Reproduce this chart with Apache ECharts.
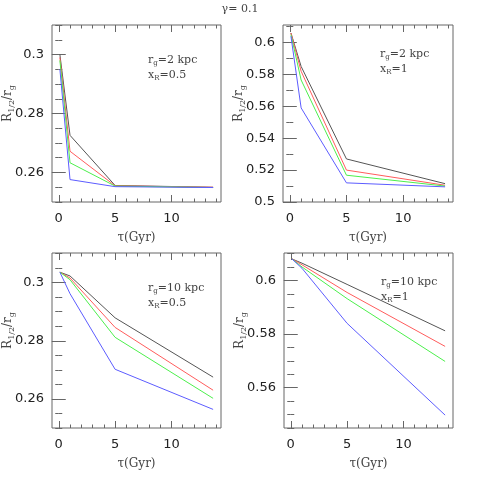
<!DOCTYPE html>
<html>
<head>
<meta charset="utf-8">
<script src="https://cdn.jsdelivr.net/npm/echarts@6/dist/echarts.min.js"></script>
<style>html,body{margin:0;padding:0;background:#fff}#c{width:479px;height:479px}</style>
</head>
<body>
<div id="c"></div>
<script>
// times (Gyr)
let tau = [0.1, 1, 5, 13.7]
// panel data: black, red, green, blue
let tl = [[0.300, 0.2726, 0.2556, 0.2550], [0.299, 0.2672, 0.2555, 0.2550], [0.298, 0.2633, 0.2554, 0.2549], [0.295, 0.2576, 0.2552, 0.2549]]
let tr = [[0.606, 0.585, 0.527, 0.5115], [0.606, 0.582, 0.520, 0.5105], [0.605, 0.5765, 0.5168, 0.510], [0.604, 0.559, 0.512, 0.5095]]
let bl = [[0.3036, 0.3023, 0.2879, 0.2675], [0.3036, 0.3016, 0.2846, 0.2630], [0.3036, 0.3010, 0.2812, 0.2602], [0.3036, 0.2962, 0.2702, 0.2564]]
let br = [[0.608, 0.6064, 0.5985, 0.5812], [0.608, 0.6058, 0.5955, 0.5754], [0.608, 0.605, 0.5932, 0.5698], [0.608, 0.6045, 0.5840, 0.5498]]
let labels = [['2', '0.5'], ['2', '1'], ['10', '0.5'], ['10', '1']]
let colors = ['#555555', '#ff5c5c', '#4cef4c', '#5c5cff']

let panels = [
  { data: tl, left: 52, top: 25, w: 169, h: 177, ymin: 0.25, ymax: 0.31, major: [0.26, 0.28, 0.30], minor: 0.005 },
  { data: tr, left: 283, top: 25, w: 170, h: 177, ymin: 0.5, ymax: 0.611, major: [0.5, 0.52, 0.54, 0.56, 0.58, 0.6], minor: 0.01 },
  { data: bl, left: 52, top: 253, w: 169, h: 175, ymin: 0.25, ymax: 0.3102, major: [0.26, 0.28, 0.30], minor: 0.005 },
  { data: br, left: 284, top: 253, w: 169, h: 175, ymin: 0.545, ymax: 0.6102, major: [0.56, 0.58, 0.6], minor: 0.005 }
]

function steps(a, b, s) {
  let out = []
  for (let v = Math.ceil(a / s - 1e-9) * s; v <= b + 1e-9; v += s) out.push(+v.toFixed(4))
  return out
}

let grid = [], xAxis = [], yAxis = [], series = [], graphic = []
let lineCol = '#666'
panels.forEach(function (p, i) {
  let xMinor = steps(0, 14, 1)
  let yMinor = steps(p.ymin, p.ymax, p.minor)
  // two grids on the same rect: g = 0 minor ticks, g = 1 major ticks + labels
  ;[0, 1].forEach(function (g) {
    let gi = grid.length
    grid.push({ left: p.left, top: p.top, width: p.w, height: p.h, show: g === 0, borderColor: lineCol, borderWidth: 1 })
    let len = g ? 7 : 3.5
    let xt = g ? [0, 5, 10] : xMinor
    let yt = g ? p.major : yMinor
    ;['bottom', 'top'].forEach(function (pos) {
      let lab = g === 1 && pos === 'bottom'
      xAxis.push({
        gridIndex: gi, type: 'value', position: pos, min: -0.6, max: 14.4,
        axisLine: { show: false }, splitLine: { show: false },
        axisTick: { inside: true, length: len, customValues: xt, lineStyle: { color: lineCol } },
        axisLabel: { show: lab, customValues: [0, 5, 10], color: '#222', fontSize: 13, fontFamily: 'DejaVu Sans', margin: 10 },
        name: lab ? 'τ(Gyr)' : '', nameLocation: 'middle', nameGap: 30,
        nameTextStyle: { fontFamily: 'DejaVu Serif', fontSize: 12, color: '#444' }
      })
    })
    ;['left', 'right'].forEach(function (pos) {
      let lab = g === 1 && pos === 'left'
      yAxis.push({
        gridIndex: gi, type: 'value', position: pos, min: p.ymin, max: p.ymax,
        axisLine: { show: false }, splitLine: { show: false },
        axisTick: { inside: true, length: len, customValues: yt, lineStyle: { color: lineCol } },
        axisLabel: {
          show: lab, customValues: p.major, color: '#222', fontSize: 13, fontFamily: 'DejaVu Sans', margin: 8,
          formatter: function (v) { return String(+v.toFixed(2)) }
        }
      })
    })
  })
  p.data.forEach(function (vals, s) {
    series.push({
      type: 'line', xAxisIndex: i * 4, yAxisIndex: i * 4, symbol: 'none', silent: true,
      lineStyle: { color: colors[s], width: 1 },
      data: tau.map(function (t, j) { return [t, vals[j]] })
    })
  })
  graphic.push({
    type: 'text', x: p.left - 44, y: p.top + p.h / 2 - 10, rotation: Math.PI / 2,
    style: {
      text: '{n|R}{s|1/2}{n|/r}{s|g}', align: 'center', verticalAlign: 'middle',
      rich: { n: { fontFamily: 'DejaVu Serif', fontSize: 12, fill: '#444' }, s: { fontFamily: 'DejaVu Serif', fontSize: 8, fill: '#444', padding: [8, 0, 0, 0] } }
    }
  })
  let rich = { n: { fontFamily: 'DejaVu Serif', fontSize: 11, fill: '#444' }, s: { fontFamily: 'DejaVu Serif', fontSize: 7, fill: '#444', padding: [7, 0, 0, 0] } }
  let ax = p.left + (i % 2 ? 97 : 96)
  let ay = p.top + (i % 2 ? 22 : 28)
  graphic.push({ type: 'text', x: ax, y: ay, style: { text: '{n|r}{s|g}{n|=' + labels[i][0] + ' kpc}', rich: rich } })
  graphic.push({ type: 'text', x: ax, y: ay + 15, style: { text: '{n|x}{s|R}{n|=' + labels[i][1] + '}', rich: rich } })
})
graphic.push({ type: 'text', x: 240, y: 4, style: { text: 'γ= 0.1', align: 'center', fontFamily: 'DejaVu Serif', fontSize: 11, fill: '#444' } })

let chart = echarts.init(document.getElementById('c'))
chart.setOption({ animation: false, grid: grid, xAxis: xAxis, yAxis: yAxis, series: series, graphic: graphic })
</script>
</body>
</html>
